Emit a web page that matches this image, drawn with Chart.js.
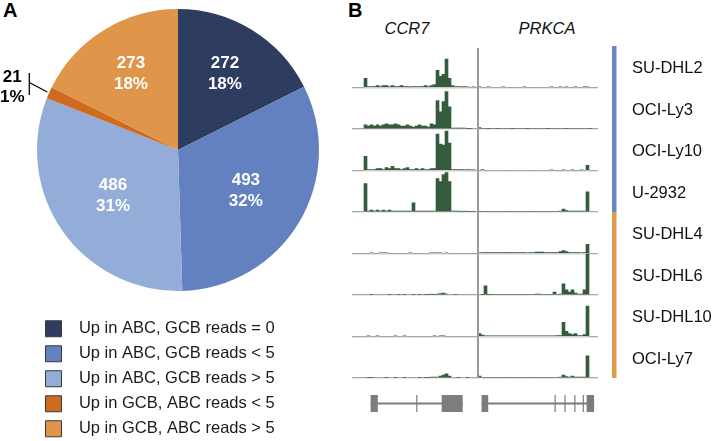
<!DOCTYPE html>
<html>
<head>
<meta charset="utf-8">
<title>Differential promoter reads, ABC vs GCB</title>
<script src="https://cdn.jsdelivr.net/npm/chart.js@4.4.1/dist/chart.umd.min.js"></script>
<style>
  body {
    margin: 0;
    width: 714px;
    height: 441px;
    overflow: hidden;
    position: relative;
    background: #fff;
    font-family: "Liberation Sans", Arial, sans-serif;
  }
  .panel-letter {
    position: absolute;
    top: 0;
    font-weight: bold;
    font-size: 20px;
    line-height: 1;
    color: #000;
  }
  .gene-name {
    position: absolute;
    top: 20px;
    font-style: italic;
    font-size: 16.5px;
    line-height: 1;
    color: #111;
    transform: translateX(-50%);
  }
  #pie { position: absolute; left: 0; top: -12px; }
  #tracks { position: absolute; left: 340px; top: 0; }
</style>
</head>
<body>
<div class="panel-letter" style="left:3px">A</div>
<div class="panel-letter" style="left:348px">B</div>
<div class="gene-name" style="left:407px">CCR7</div>
<div class="gene-name" style="left:547px">PRKCA</div>
<canvas id="pie" width="356" height="459"></canvas>
<canvas id="tracks" width="374" height="441"></canvas>
<script>
(() => {
  'use strict';

  // ---- panel A: genes up in one subtype, by read count in the other ----
  const pieCategories = [
    'Up in ABC, GCB reads = 0',
    'Up in ABC, GCB reads < 5',
    'Up in ABC, GCB reads > 5',
    'Up in GCB, ABC reads < 5',
    'Up in GCB, ABC reads > 5'
  ];
  const pieCounts = [272, 493, 486, 21, 273];
  const pieColors = ['#2e3c5f', '#6381c0', '#94acd8', '#cf6a21', '#e0964a'];

  // ---- panel B: read coverage tracks (one bin ~ 3 px) ----
  const trackNames = ['SU-DHL2', 'OCI-Ly3', 'OCI-Ly10', 'U-2932', 'SU-DHL4', 'SU-DHL6', 'SU-DHL10', 'OCI-Ly7'];
  const trackGroups = ['ABC', 'ABC', 'ABC', 'ABC', 'GCB', 'GCB', 'GCB', 'GCB'];
  const groupColors = { ABC: '#6a86c4', GCB: '#e29a4c' };

  // CCR7 locus, 42 bins
  const ccr7SUDHL2 = [0, 0, 0, 0, 9, 1, 1, 1, 2, 1, 2, 2, 1, 2, 1, 1, 2, 1, 1, 0.5, 1, 1, 1, 1, 2, 1, 2, 3, 17, 11, 13, 28, 9, 2, 1, 1, 0.5, 1, 0.5, 0, 0.5, 0];
  const ccr7OCILy3 = [0, 0, 0, 0, 4, 3, 4, 3, 4, 3, 4, 5, 4, 4, 5, 4, 3, 3, 4, 3, 2, 3, 4, 3, 3, 2, 5, 4, 28, 17, 27, 37, 22, 1, 1, 1, 1, 1, 0.5, 0.5, 0, 0];
  const ccr7OCILy10 = [0, 0, 0, 0, 14, 1, 1, 1, 2, 2, 1, 3, 2, 4, 2, 2, 1, 2, 3, 1, 1, 2, 1, 2, 1, 1, 2, 2, 36, 26, 25, 39, 27, 1, 1, 1, 1, 0.5, 1, 0.5, 0.5, 0];
  const ccr7U2932 = [0, 0, 0, 0, 28, 1, 2, 1, 2, 1, 2, 1, 2, 1, 1, 1, 1, 1, 1, 1, 9, 1, 1, 1, 1, 1, 1, 1, 33, 30, 37, 39, 30, 1, 1, 1, 0.5, 1, 0.5, 0.5, 0.5, 0];
  const ccr7SUDHL4 = [0, 0, 0, 0, 0, 0, 0.7, 0, 0, 0.7, 0.7, 0.7, 0, 0, 0, 0, 0, 0, 0, 0.7, 0, 0, 0, 0, 0, 0, 0.7, 0.7, 0.7, 0.7, 0, 0.7, 0, 0, 0, 0, 0, 0, 0, 0, 0, 0];
  const ccr7SUDHL6 = [0, 0, 0, 0, 0, 0, 0.5, 0, 0, 0, 0, 0, 0.5, 0, 0, 0.5, 0, 0.5, 0, 0, 0.5, 0, 0.5, 0, 0.5, 0.5, 1, 0.5, 1, 1.5, 2, 1, 0, 0, 0.5, 0, 0, 0, 0, 0, 0, 0];
  const ccr7SUDHL10 = [0, 0, 0, 0, 0, 0.5, 0, 0, 0.5, 0, 0, 0, 0, 0, 0.5, 0, 0, 0.5, 0, 0, 0, 0, 0, 0, 0, 0, 0, 0.5, 0, 0.5, 0.5, 0, 0, 0, 0, 0, 0, 0, 0, 0, 0, 0];
  const ccr7OCILy7 = [0, 0, 0, 0, 0, 0.5, 0.5, 0, 0, 0, 0, 0.5, 0, 0, 0.5, 0, 0, 0.5, 0, 0, 0, 0, 0.5, 0, 0.5, 0.5, 1, 1, 1, 2, 3, 4, 2, 0, 0, 0.5, 0, 0, 0.5, 0, 0, 0];

  // PRKCA locus, 40 bins
  const prkcaSUDHL2 = [0.5, 0, 0, 0.5, 0, 0, 0, 0, 0.5, 0, 0, 0, 0, 0, 0, 0.5, 0, 0, 0, 0, 0, 0, 0, 0, 0.5, 0, 0, 0.5, 0, 0.5, 0, 0, 0.5, 0, 0, 0.5, 0.5, 0, 0, 0];
  const prkcaOCILy3 = [1.5, 0.7, 0.7, 0.6, 0.7, 0.7, 0.6, 0.7, 0.7, 0.7, 0.7, 0.6, 0.7, 0.7, 0.7, 0.7, 0.6, 0.7, 0.7, 0.7, 0.7, 0.7, 0.7, 0.6, 0.7, 0.7, 0.7, 0.7, 0.7, 0.6, 0.7, 0.7, 0.7, 0.7, 0.7, 0.7, 0.7, 0.6, 0, 0];
  const prkcaOCILy10 = [0, 1, 0, 0, 0, 0, 0, 0, 0, 0, 0, 0, 0, 0, 0, 0, 0, 0, 0, 0, 0, 0, 0, 0, 0.5, 0, 0, 0, 0.5, 0, 0, 0.5, 0, 0, 0.5, 0, 5, 0, 0, 0];
  const prkcaU2932 = [0.5, 0.7, 0.7, 0.7, 0.7, 0.7, 0.7, 0.7, 0.7, 0.7, 0.7, 0.7, 0.7, 0.7, 0.7, 0.7, 0.7, 0.7, 0.7, 0.7, 0.7, 0.7, 0.7, 0.7, 0.7, 0.7, 0.7, 1, 3, 1.5, 1, 1, 1, 1, 1, 1, 20, 0, 0, 0];
  const prkcaSUDHL4 = [0.7, 1, 1, 1, 1, 1, 1, 1, 1, 1, 1, 1, 1, 1, 1, 1, 0.7, 1, 1, 1.5, 1.5, 1.5, 1, 1, 1, 1, 1, 2, 3, 2, 1, 1, 1, 1, 0.7, 1, 9, 0, 0, 0];
  const prkcaSUDHL6 = [0, 0.5, 9, 0.5, 0.5, 0.7, 0.7, 0.7, 0.7, 0.7, 0.7, 0.7, 0.7, 0.7, 0.7, 0.7, 0.7, 0.7, 0.7, 1, 1, 0.7, 0.7, 0.7, 0.7, 3, 0.7, 1, 11, 5, 3, 5, 2, 1, 1, 5, 41, 0, 0, 0];
  const prkcaSUDHL10 = [3, 1.5, 0.7, 0.7, 0.7, 0.7, 0.7, 0.7, 0.7, 0.7, 0.7, 0.7, 0.7, 0.7, 0.7, 0.7, 0.7, 0.7, 0.7, 0.7, 0.7, 0.7, 0.7, 0.7, 0.7, 0.7, 1, 1, 14, 5, 3, 2, 3, 1, 1, 2, 30, 0, 0, 0];
  const prkcaOCILy7 = [2, 0.7, 0.7, 0.7, 0.7, 0.7, 0.7, 0.7, 0.7, 0.7, 0.7, 0.7, 0.7, 0.7, 0.7, 0.7, 0.7, 0.7, 0.7, 0.7, 0.7, 0.7, 0.7, 0.7, 0.7, 0.7, 0.7, 1, 3, 1.5, 1, 2, 1, 1, 1, 1, 22, 0, 0, 0];

  // exons as [start, end] in bin-edge units of the shared x axis
  const ccr7Exons = [[6.2, 8.6], [21.4, 21.8], [29.9, 36.9]];
  const prkcaExons = [[43.2, 45.4], [67.5, 67.9], [70.8, 71.2], [74.1, 74.5], [76.9, 77.3], [78.2, 80.7]];

  const ccr7Tracks = [ccr7SUDHL2, ccr7OCILy3, ccr7OCILy10, ccr7U2932, ccr7SUDHL4, ccr7SUDHL6, ccr7SUDHL10, ccr7OCILy7];
  const prkcaTracks = [prkcaSUDHL2, prkcaOCILy3, prkcaOCILy10, prkcaU2932, prkcaSUDHL4, prkcaSUDHL6, prkcaSUDHL10, prkcaOCILy7];
  const binLabels = ccr7SUDHL2.concat(prkcaSUDHL2).map((v, i) => String(i));
  const trackMax = 41;

  const FONT = '"Liberation Sans", Arial, sans-serif';
  Chart.defaults.font.family = FONT;

  /**
   * Writes count and percent on each slice, small slices get a leader line outside
   */
  const sliceLabels = {
    id: 'sliceLabels',
    afterDatasetsDraw(chart) {
      const ctx = chart.ctx;
      const total = pieCounts.reduce((a, b) => a + b, 0);
      ctx.save();
      ctx.font = 'bold 17px ' + FONT;
      ctx.textAlign = 'center';
      ctx.textBaseline = 'middle';
      chart.getDatasetMeta(0).data.forEach((arc, i) => {
        const p = arc.getProps(['x', 'y', 'startAngle', 'endAngle', 'outerRadius'], true);
        const mid = (p.startAngle + p.endAngle) / 2;
        const half = (p.endAngle - p.startAngle) / 2;
        const pct = Math.round(pieCounts[i] / total * 100) + '%';
        if (half > 0.2) {
          // centroid of the sector
          const r = p.outerRadius * 2 * Math.sin(half) / (3 * half);
          const lx = p.x + r * Math.cos(mid);
          const ly = p.y + r * Math.sin(mid);
          ctx.fillStyle = '#fff';
          ctx.fillText(String(pieCounts[i]), lx, ly - 10.5);
          ctx.fillText(pct, lx, ly + 10.5);
        } else {
          const ex = p.x + (p.outerRadius + 2) * Math.cos(mid);
          const ey = p.y + (p.outerRadius + 2) * Math.sin(mid);
          const bx = ex - 18;
          ctx.strokeStyle = '#000';
          ctx.lineWidth = 1.3;
          ctx.beginPath();
          ctx.moveTo(bx, ey - 19);
          ctx.lineTo(bx, ey + 3);
          ctx.moveTo(bx, ey - 9.5);
          ctx.lineTo(ex, ey);
          ctx.stroke();
          ctx.fillStyle = '#000';
          ctx.fillText(String(pieCounts[i]), bx - 17, ey - 14.5);
          ctx.fillText(pct, bx - 17, ey + 5.5);
        }
      });
      ctx.restore();
    }
  };

  new Chart(document.getElementById('pie'), {
    type: 'pie',
    data: {
      labels: pieCategories,
      datasets: [{
        data: pieCounts,
        backgroundColor: pieColors,
        borderWidth: 0,
        hoverOffset: 0
      }]
    },
    options: {
      responsive: false,
      animation: false,
      events: [],
      layout: { padding: { left: 37, right: 37, top: 0, bottom: 0 } },
      plugins: {
        tooltip: { enabled: false },
        legend: {
          position: 'bottom',
          align: 'start',
          labels: {
            boxWidth: 16,
            boxHeight: 16,
            padding: 8.5,
            color: '#1a1a1a',
            font: { size: 16.5 },
            generateLabels: (chart) => Chart.overrides.pie.plugins.legend.labels.generateLabels(chart)
              .map(item => Object.assign({}, item, { text: '  ' + item.text, strokeStyle: '#3a3a3a', lineWidth: 1 }))
          }
        }
      }
    },
    plugins: [sliceLabels]
  });

  /**
   * Draws the locus divider, subtype bar, cell line names and gene models
   */
  const trackDecor = {
    id: 'trackDecor',
    afterDraw(chart) {
      const ctx = chart.ctx;
      const area = chart.chartArea;
      const x = chart.scales.x;
      const edge = (v) => x.getPixelForValue(v - 0.5);
      const axes = trackNames.map((n, k) => chart.scales['y' + k]);
      ctx.save();

      // divider between the two loci
      const divX = edge(ccr7SUDHL2.length);
      ctx.strokeStyle = '#9a9a9a';
      ctx.lineWidth = 2;
      ctx.beginPath();
      ctx.moveTo(divX, area.top + 2);
      ctx.lineTo(divX, area.bottom);
      ctx.stroke();

      // subtype bar, one run per group of adjacent tracks
      let runStart = 0;
      axes.forEach((axis, k) => {
        const last = k === axes.length - 1 || trackGroups[k + 1] !== trackGroups[k];
        if (last) {
          const top = Math.round(axes[runStart].top);
          const bottom = Math.round(axis.bottom);
          ctx.fillStyle = groupColors[trackGroups[k]];
          ctx.fillRect(area.right + 14, top, 4.5, bottom - top);
          runStart = k + 1;
        }
      });

      // cell line names
      ctx.font = '16.5px ' + FONT;
      ctx.textAlign = 'left';
      ctx.textBaseline = 'middle';
      ctx.fillStyle = '#111';
      axes.forEach((axis, k) => {
        ctx.fillText(trackNames[k], area.right + 34, (axis.top + axis.bottom) / 2 + 2);
      });

      // gene models
      const gy = area.bottom + 25.5;
      ctx.fillStyle = '#7d7d7d';
      ctx.strokeStyle = '#7d7d7d';
      ctx.lineWidth = 2;
      [ccr7Exons, prkcaExons].forEach((exons) => {
        ctx.beginPath();
        ctx.moveTo(edge(exons[0][0]), gy);
        ctx.lineTo(edge(exons[exons.length - 1][1]), gy);
        ctx.stroke();
        exons.forEach(([s, e]) => {
          ctx.fillRect(edge(s), gy - 8.5, edge(e) - edge(s), 17);
        });
      });
      ctx.restore();
    }
  };

  const yScales = {};
  trackNames.forEach((name, k) => {
    yScales['y' + k] = {
      type: 'linear',
      position: 'left',
      stack: 'tracks',
      stackWeight: 1,
      weight: trackNames.length - k,
      min: 0,
      max: trackMax,
      ticks: { display: false },
      border: { display: false },
      grid: {
        drawTicks: false,
        lineWidth: 1.5,
        color: (c) => (c.tick && c.tick.value === 0 ? '#cdcdcd' : 'rgba(0,0,0,0)')
      }
    };
  });

  new Chart(document.getElementById('tracks'), {
    type: 'bar',
    data: {
      labels: binLabels,
      datasets: trackNames.map((name, k) => ({
        label: name,
        data: ccr7Tracks[k].concat(prkcaTracks[k]),
        yAxisID: 'y' + k,
        backgroundColor: '#345c3c',
        borderWidth: 0,
        grouped: false,
        barPercentage: 1,
        categoryPercentage: 1
      }))
    },
    options: {
      responsive: false,
      animation: false,
      events: [],
      layout: { padding: { left: 12, right: 116, top: 46, bottom: 63 } },
      plugins: { legend: { display: false }, tooltip: { enabled: false } },
      scales: Object.assign({ x: { type: 'category', display: false, offset: true } }, yScales)
    },
    plugins: [trackDecor]
  });
})();
</script>
</body>
</html>
